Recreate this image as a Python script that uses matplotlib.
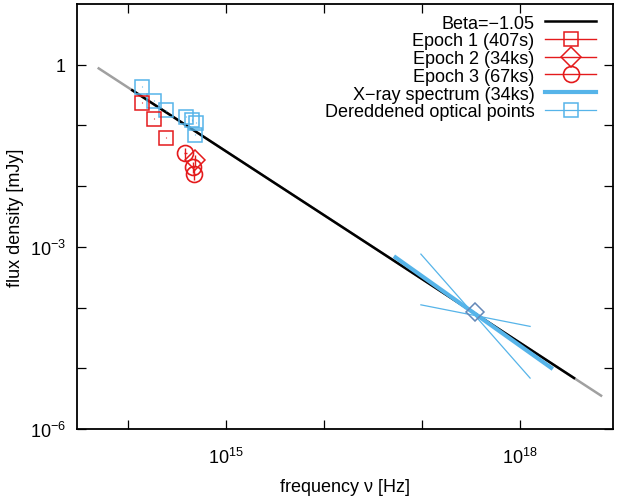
import numpy as np
import matplotlib.pyplot as plt
from matplotlib.lines import Line2D

plt.rcParams['font.family'] = ['Liberation Sans', 'DejaVu Sans']
plt.rcParams['mathtext.fontset'] = 'custom'
plt.rcParams['mathtext.rm'] = 'Liberation Sans'
plt.rcParams['font.size'] = 13

rojo = '#e41a1c'
azul = '#56b4e9'

# Ley de potencias (Beta = -1.05), normalizada en 1e16 Hz
beta = -1.05
f_norm = 3.34e-3
nu_norm = 1e16
rango_gris = [5.0e13, 6.8e18]
rango_negro = [1.1e14, 3.6e18]

# Espectro de rayos X (34ks)
nu_xray = [5.4e16, 2.1e18]
f_xray = [6.7e-4, 1.02e-5]

# Pajarita de rayos X
nu_bow = [9.8e16, 1.28e18]
f_bow1 = [7.6e-4, 6.9e-6]
f_bow2 = [1.11e-4, 4.9e-5]
nu_xpunto = [3.5e17]
f_xpunto = [8.3e-5]

# Puntos opticos
nu_ep1 = [1.37e14, 1.82e14, 2.41e14]
f_ep1 = [0.238, 0.129, 0.0628]
nu_ep2 = [4.86e14]
f_ep2 = [0.0269]
nu_ep3 = [3.85e14, 4.64e14, 4.75e14]
f_ep3 = [0.0351, 0.0206, 0.0158]
nu_opt = [1.37e14, 1.82e14, 2.44e14, 3.91e14, 4.53e14, 4.98e14, 4.78e14]
f_opt = [0.432, 0.254, 0.178, 0.140, 0.123, 0.110, 0.0697]


def ley(nu):
    nu = np.asarray(nu)
    return f_norm * (nu / nu_norm) ** beta


fig = plt.figure(figsize=(6.17, 5.02), dpi=100)
ax = fig.add_axes([0.1248, 0.1434, 0.8687, 0.8466])
ax.set_xscale('log')
ax.set_yscale('log')

nu_g = np.array(rango_gris)
nu_n = np.array(rango_negro)
ax.plot(nu_g, ley(nu_g), color='#a0a0a0', lw=1.8, zorder=1)
ax.plot(nu_n, ley(nu_n), color='black', lw=1.8, zorder=2)

ax.plot(nu_xray, f_xray, color=azul, lw=3.0, zorder=3)
ax.plot(nu_bow, f_bow1, color=azul, lw=0.9, zorder=3)
ax.plot(nu_bow, f_bow2, color=azul, lw=0.9, zorder=3)
ax.plot(nu_xpunto, f_xpunto, ls='none', marker='D', ms=9.5, mfc='none',
        mec='#6488b8', mew=1.1, zorder=4)

ax.errorbar(nu_opt, f_opt, yerr=np.array(f_opt) * 0.02, fmt='s', ms=9.4,
            mfc='none', mec=azul, mew=1.1, ecolor=azul, elinewidth=0.8,
            capsize=0, zorder=4)
ax.errorbar(nu_ep1, f_ep1, yerr=np.array(f_ep1) * 0.02, fmt='s', ms=9.4,
            mfc='none', mec=rojo, mew=1.1, ecolor=rojo, elinewidth=0.8,
            capsize=0, zorder=5)
ax.errorbar(nu_ep2, f_ep2, yerr=np.array(f_ep2) * 0.2,
            xerr=np.array(nu_ep2) * 0.04, fmt='D', ms=10.5,
            mfc='none', mec=rojo, mew=1.1, ecolor=rojo, elinewidth=1.0,
            capsize=0, zorder=5)
ax.errorbar(nu_ep3, f_ep3, yerr=np.array(f_ep3) * 0.2,
            xerr=np.array(nu_ep3) * 0.04, fmt='o', ms=11.5,
            mfc='none', mec=rojo, mew=1.2, ecolor=rojo, elinewidth=1.0,
            capsize=0, zorder=5)

ax.set_xlim(3e13, 9e18)
ax.set_ylim(1e-6, 1e1)

ax.set_xticks([10.0 ** k for k in range(14, 19)])
ax.set_xticklabels(['', r'$10^{15}$', '', '', r'$10^{18}$'])
ax.set_yticks([10.0 ** k for k in range(-6, 1)])
ax.set_yticklabels([r'$10^{-6}$', '', '', r'$10^{-3}$', '', '', '1'])
ax.minorticks_off()
ax.tick_params(which='both', direction='in', top=True, right=True,
               length=6.5, width=0.9)
ax.tick_params(axis='x', pad=13)
ax.tick_params(axis='y', pad=8)
for s in ax.spines.values():
    s.set_linewidth(1.3)

ax.set_xlabel('frequency ν [Hz]', labelpad=8)
ax.set_ylabel('flux density [mJy]', labelpad=4)

manejadores = [
    Line2D([], [], color='black', lw=1.8),
    Line2D([], [], color=rojo, lw=1.0, marker='s', ms=9.4, mfc='none', mew=1.1),
    Line2D([], [], color=rojo, lw=1.0, marker='D', ms=10.5, mfc='none', mew=1.1),
    Line2D([], [], color=rojo, lw=1.0, marker='o', ms=11.5, mfc='none', mew=1.2),
    Line2D([], [], color=azul, lw=3.0),
    Line2D([], [], color=azul, lw=0.9, marker='s', ms=9.4, mfc='none', mew=1.1),
]
etiquetas = ['Beta=−1.05', 'Epoch 1 (407s)', 'Epoch 2 (34ks)', 'Epoch 3 (67ks)',
             'X−ray spectrum (34ks)', 'Dereddened optical points']
ax.legend(manejadores, etiquetas, loc='upper right', bbox_to_anchor=(0.968, 0.975),
          frameon=False, markerfirst=False, handlelength=2.8, handletextpad=0.6,
          labelspacing=0.04, borderpad=0, borderaxespad=0)

fig.savefig('out.png', dpi=100)
